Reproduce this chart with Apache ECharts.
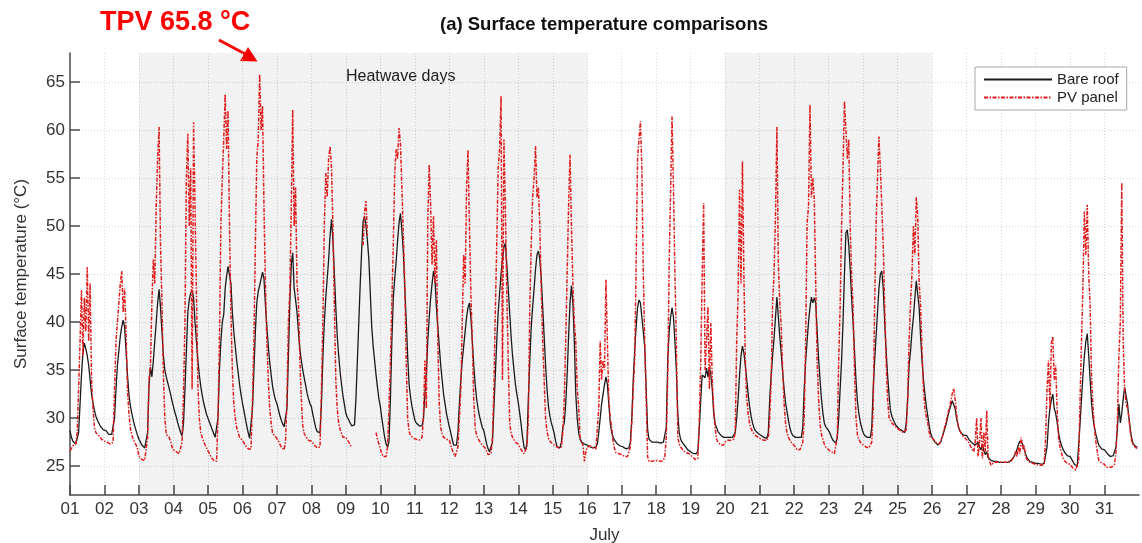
<!DOCTYPE html>
<html>
<head>
<meta charset="utf-8">
<script src="https://cdn.jsdelivr.net/npm/echarts@6/dist/echarts.min.js"></script>
<style>html,body{margin:0;padding:0;background:#fff}#main{width:1142px;height:543px}</style>
</head>
<body>
<div id="main"></div>
<script>
// Hourly values (h0..h23) for each day of July
const bareRoof = [
[28.7,28.0,27.6,27.4,27.3,27.5,28.5,31.5,34.5,36.8,37.8,37.2,36.5,35.5,34.0,32.5,31.6,30.8,30.2,29.8,29.5,29.2,29.0,28.8],
[28.9,28.7,28.5,28.3,28.2,28.3,28.5,30.0,33.0,35.5,37.0,38.5,39.5,40.2,39.5,37.0,34.5,32.5,31.3,30.5,29.8,29.2,28.7,28.2],
[27.8,27.5,27.2,27.0,26.9,26.9,28.5,33.5,35.3,34.3,36.0,38.0,40.0,42.0,43.4,41.5,39.0,36.5,35.0,34.3,33.7,33.1,32.5,31.8],
[31.2,30.6,30.1,29.5,29.0,28.5,28.1,29.5,33.0,37.0,41.0,42.3,43.0,43.3,42.5,40.0,38.0,36.0,34.5,33.3,32.4,31.6,31.0,30.4],
[30.0,29.6,29.2,28.8,28.4,28.0,27.8,30.0,35.0,38.0,40.0,40.8,43.5,44.8,45.8,45.6,44.0,41.0,39.0,37.5,36.0,34.8,33.5,32.5],
[31.6,30.8,30.0,29.2,28.5,27.9,27.7,31.0,35.0,39.0,42.0,43.2,43.8,44.5,45.2,44.5,41.8,39.5,37.5,35.8,34.5,33.3,32.5,31.9],
[31.5,30.9,30.3,29.8,29.4,29.1,29.0,31.0,36.5,42.0,46.0,47.2,43.5,42.3,41.0,39.0,37.1,36.0,35.0,34.2,33.4,32.6,32.0,31.5],
[31.2,30.4,29.7,29.0,28.6,28.4,28.5,31.5,36.4,40.0,42.5,44.5,46.5,49.0,50.7,48.5,45.0,41.5,38.5,36.5,34.8,33.5,32.3,31.4],
[30.5,30.1,29.8,29.5,29.2,29.0,29.3,32.0,36.0,40.0,44.0,47.5,50.5,51.0,50.0,48.5,46.5,43.0,39.5,37.5,36.0,34.5,33.2,32.0],
[31.2,30.0,29.0,28.0,27.3,27.0,27.5,32.0,38.0,42.5,44.5,46.3,48.5,50.3,51.3,49.5,47.3,43.5,40.2,36.5,33.5,32.2,31.2,30.5],
[29.8,29.5,29.3,29.2,29.1,29.2,30.0,32.5,34.7,38.0,40.5,42.5,44.0,45.3,44.5,41.6,39.5,37.5,35.5,34.0,32.5,31.5,30.5,29.8],
[29.1,28.5,27.8,27.2,27.0,27.2,28.5,31.5,34.0,36.0,37.5,39.0,40.5,41.5,42.0,40.5,38.0,35.5,33.5,32.0,31.0,30.2,29.6,29.0],
[28.7,28.0,27.3,26.8,26.5,26.6,27.5,31.0,34.5,38.0,41.0,43.0,45.0,46.5,47.8,48.2,46.0,43.5,41.0,38.5,36.5,35.0,33.5,32.5],
[31.6,30.5,29.3,28.0,27.0,26.7,27.3,32.0,36.0,39.5,41.6,43.5,45.5,47.0,47.4,46.5,44.5,41.5,38.5,35.5,33.0,31.2,30.2,29.5],
[29.0,28.4,27.6,27.0,26.8,26.9,27.5,29.0,29.5,31.5,34.5,38.5,42.0,43.8,42.0,38.0,32.5,30.0,28.5,27.8,27.5,27.4,27.3,27.2],
[27.2,27.1,27.0,27.0,26.9,26.9,27.0,27.3,28.5,30.0,31.5,32.5,33.5,34.3,33.5,31.5,29.5,28.5,28.0,27.7,27.5,27.3,27.2,27.1],
[27.1,27.0,26.9,26.8,26.8,26.9,27.5,30.0,34.0,37.0,39.5,41.5,42.3,42.0,40.5,39.0,37.4,33.0,28.8,27.8,27.6,27.5,27.5,27.5],
[27.5,27.5,27.4,27.4,27.4,27.5,27.5,29.0,36.0,39.0,40.5,41.5,40.5,38.0,35.0,30.5,28.5,27.8,27.5,27.3,27.1,26.9,26.7,26.5],
[26.5,26.4,26.3,26.3,26.3,26.6,29.0,32.0,34.5,34.7,34.2,35.2,34.3,35.3,34.5,33.0,30.5,29.4,29.0,28.6,28.4,28.2,28.1,28.0],
[28.0,28.0,28.0,28.0,28.0,28.0,28.0,28.5,30.0,32.0,34.5,36.5,37.5,36.8,35.5,34.0,32.5,31.2,30.2,29.5,29.0,28.7,28.5,28.4],
[28.3,28.2,28.1,28.0,27.9,27.9,28.5,32.0,34.5,36.5,38.3,40.5,42.6,40.5,38.5,36.7,34.8,33.0,31.6,30.7,29.8,29.0,28.5,28.2],
[28.1,28.0,28.0,28.0,27.9,28.0,29.0,33.0,36.0,38.0,40.0,41.5,42.6,42.0,42.5,42.0,39.0,36.2,34.0,32.0,30.5,29.5,29.1,28.9],
[28.7,28.4,28.0,27.7,27.5,27.4,28.0,30.0,33.0,36.0,40.0,45.0,49.3,49.6,48.0,45.5,42.5,39.9,37.0,34.0,31.8,30.5,29.6,29.0],
[28.5,28.2,28.1,28.0,28.0,28.0,29.0,33.0,36.0,38.5,41.0,43.5,45.0,45.3,43.5,40.0,37.0,34.5,32.5,30.8,30.2,29.8,29.5,29.2],
[29.1,28.9,28.8,28.7,28.6,28.5,29.5,32.0,35.5,37.0,39.0,40.5,42.5,44.3,44.5,41.5,38.5,36.0,34.0,32.5,31.2,30.2,29.2,28.4],
[28.0,27.8,27.5,27.3,27.2,27.2,27.5,28.0,28.5,29.0,29.5,30.2,30.8,31.3,31.8,31.9,31.0,30.0,29.3,28.8,28.5,28.3,28.2,28.2],
[28.2,28.0,27.7,27.8,27.4,27.3,27.2,27.3,27.5,27.0,26.7,27.3,26.6,26.2,26.5,25.9,25.7,25.6,25.5,25.5,25.5,25.5,25.4,25.4],
[25.4,25.4,25.4,25.4,25.4,25.4,25.5,25.6,25.8,26.0,26.3,26.7,27.2,27.6,27.7,27.3,26.8,26.3,25.9,25.7,25.5,25.4,25.4,25.3],
[25.3,25.3,25.3,25.3,25.2,25.2,25.3,25.5,27.0,29.5,31.0,31.9,32.5,31.0,30.5,29.6,28.5,27.7,27.2,26.8,26.5,26.3,26.1,26.0],
[26.0,25.8,25.5,25.2,25.0,25.0,25.2,29.5,32.0,34.5,36.5,38.0,38.8,36.5,34.0,31.5,30.0,29.0,28.3,27.7,27.2,27.0,26.8,26.7],
[26.7,26.5,26.3,26.1,26.0,26.0,26.1,26.5,27.0,29.0,31.5,29.5,30.5,32.0,33.2,33.3,31.5,30.0,28.8,27.8,27.3,27.1,27.0,27.0]
];
const pvPanel = [
[26.6,26.8,27.1,27.0,27.3,28.5,33.0,38.0,43.3,36.5,42.5,39.0,45.7,38.0,44.0,34.0,31.0,29.0,28.5,28.3,28.2,28.0,27.8,27.7],
[27.6,27.6,27.5,27.4,27.3,27.2,27.5,33.0,38.0,40.0,42.0,44.0,45.3,41.0,43.5,39.0,33.0,30.5,29.0,28.3,27.8,27.5,27.2,26.8],
[26.0,25.8,25.7,25.6,25.6,25.6,28.0,34.0,35.5,42.0,46.5,44.0,52.0,57.0,60.3,48.0,42.0,34.5,30.0,28.3,28.1,28.0,27.6,27.0],
[26.7,26.6,26.5,26.4,26.3,26.3,27.5,32.5,40.0,55.0,59.6,50.0,56.0,33.0,60.8,52.0,43.0,33.5,30.0,28.5,28.0,27.6,27.2,26.9],
[26.6,26.3,26.0,25.8,25.6,25.4,25.5,30.0,38.0,50.0,55.0,59.0,63.7,58.0,62.0,50.0,41.0,35.0,31.5,30.0,29.0,28.5,28.0,27.8],
[27.7,27.5,27.2,27.0,26.8,26.7,26.8,32.0,38.0,48.0,57.0,59.0,65.8,60.0,62.5,52.0,44.0,38.0,34.0,31.0,29.5,28.4,28.2,28.1],
[28.0,27.6,27.3,27.0,26.8,26.7,27.5,32.0,40.0,43.3,52.0,62.1,50.0,54.0,44.0,42.0,36.0,32.0,29.2,28.4,28.1,27.9,27.7,27.6],
[27.6,27.4,27.2,27.0,26.9,26.8,27.0,33.0,40.0,50.0,55.5,53.0,57.0,58.3,56.0,50.0,41.6,34.0,31.0,29.5,28.8,28.4,28.0,27.8],
[28.0,27.8,27.5,27.2,27.0,null,null,null,null,null,null,null,48.0,51.5,52.6,49.0,null,null,null,null,null,28.5,27.8,27.3],
[26.8,26.3,26.0,25.8,26.0,27.0,31.0,36.0,42.0,48.0,55.5,58.0,57.0,60.2,58.5,54.0,49.0,44.0,36.0,30.0,28.6,28.2,28.0,27.9],
[27.9,27.8,27.7,27.7,27.8,28.0,30.0,36.0,31.0,50.5,56.4,52.0,46.0,51.0,44.0,48.5,38.0,31.5,29.0,28.4,28.0,27.9,27.8,27.7],
[27.7,27.2,26.7,26.3,26.0,26.0,27.0,30.0,32.9,40.0,47.0,44.0,54.0,57.9,50.0,43.0,38.0,32.0,29.0,28.2,27.9,27.6,27.4,27.2],
[27.2,26.9,26.5,26.2,26.1,26.3,28.0,33.0,41.0,48.0,56.0,58.0,63.5,34.0,59.0,52.0,43.0,36.0,29.5,28.4,28.0,27.8,27.5,27.3],
[27.3,27.0,26.7,26.5,26.3,26.3,27.0,30.0,41.6,48.0,53.0,55.0,58.3,53.0,54.0,50.0,43.3,38.0,34.0,30.0,28.6,27.9,27.6,27.4],
[27.3,27.2,27.1,27.0,26.9,26.7,27.0,28.5,32.0,38.0,45.0,52.0,57.4,50.0,44.0,40.0,38.0,33.0,31.2,28.0,27.5,27.2,25.5,26.5],
[27.0,27.2,27.1,27.0,26.9,26.8,26.8,27.0,31.0,38.0,34.0,36.0,35.0,44.4,38.0,32.0,30.0,29.0,27.5,26.8,26.4,26.3,26.3,26.2],
[26.2,26.1,26.0,26.0,26.0,26.0,27.0,29.5,33.0,36.0,45.8,57.0,59.0,60.9,56.0,45.0,38.0,32.0,26.0,25.5,25.5,25.5,25.6,25.6],
[25.6,25.6,25.6,25.5,25.5,25.6,26.0,28.0,34.0,46.0,53.5,61.4,54.0,45.0,38.0,28.0,27.3,27.0,26.8,26.6,26.5,26.4,26.3,26.3],
[26.2,26.0,25.8,25.7,25.6,25.8,30.0,36.0,45.0,52.4,35.0,38.0,41.6,33.0,39.9,34.0,31.0,29.0,27.8,27.5,27.3,27.2,27.2,27.2],
[27.5,27.6,27.7,27.7,27.7,27.7,27.8,28.5,38.0,43.0,53.8,44.0,56.7,45.0,36.0,32.0,30.5,29.4,28.9,28.6,28.4,28.2,28.1,28.0],
[28.0,27.8,27.7,27.7,27.7,27.7,28.0,30.0,34.0,42.0,45.0,51.0,60.3,46.0,42.0,39.5,35.0,31.5,29.5,28.5,28.0,27.7,27.5,27.3],
[27.3,27.0,26.7,26.8,26.7,26.8,27.5,30.0,38.0,50.3,52.0,62.6,53.0,55.0,52.8,44.0,36.0,32.0,29.4,28.3,27.8,27.3,27.0,26.8],
[26.7,26.6,26.5,26.4,26.3,26.4,28.0,36.0,41.6,50.0,56.0,63.0,62.8,57.0,59.0,50.0,45.0,41.6,35.0,30.1,28.3,27.8,27.5,27.3],
[27.2,27.1,27.0,27.0,26.9,26.9,27.5,31.0,41.6,50.0,55.0,59.3,56.0,52.0,48.0,41.6,36.0,32.0,30.1,29.8,29.5,29.4,29.2,29.0],
[28.9,28.8,28.7,28.6,28.5,28.4,28.8,32.0,38.1,42.0,45.0,50.0,47.0,53.0,51.0,44.0,41.6,37.0,33.0,31.0,30.1,29.5,28.5,28.0],
[28.0,27.8,27.6,27.4,27.3,27.3,27.5,28.0,28.6,29.2,29.8,30.5,31.0,31.8,32.5,33.1,32.0,30.5,29.3,28.8,28.5,28.2,28.0,27.9],
[27.8,27.6,27.5,27.0,26.8,26.5,27.5,30.0,26.0,27.5,30.0,25.8,28.5,26.5,30.8,26.0,25.5,25.1,25.3,25.4,25.4,25.4,25.4,25.4],
[25.4,25.4,25.4,25.4,25.4,25.4,25.4,25.5,25.7,26.0,26.5,26.0,27.0,26.3,28.0,26.8,27.2,26.0,25.7,25.5,25.4,25.3,25.3,25.2],
[25.2,25.2,25.1,25.1,25.1,25.1,25.2,28.0,33.0,36.0,31.0,37.8,38.5,34.0,35.5,31.0,28.0,27.0,26.4,25.9,25.6,25.4,25.3,25.2],
[25.2,25.0,24.8,24.7,24.6,24.7,25.5,32.0,38.1,44.0,51.5,47.0,52.2,45.0,41.6,34.0,31.2,29.0,27.5,26.5,25.6,25.4,25.3,25.2],
[25.2,24.9,24.9,24.9,24.9,24.9,25.0,25.2,26.5,30.0,36.5,40.0,54.5,38.0,33.0,31.5,31.0,30.0,28.5,27.6,27.2,27.0,26.9,26.8]
];
const dayTicks = [1,2,3,4,5,6,7,8,9,10,11,12,13,14,15,16,17,18,19,20,21,22,23,24,25,26,27,28,29,30,31];
const tempTicks = [25,30,35,40,45,50,55,60,65];
const heatwaveSpans = [[3,16],[20,26]];
const seriesNames = ['Bare roof','PV panel'];

function toPoints(days){
  const pts = [];
  days.forEach((row, d) => row.forEach((v, h) => pts.push([1 + d + h/24, v])));
  return pts;
}

const FONT = 'Liberation Sans, Arial, sans-serif';
const chart = echarts.init(document.getElementById('main'), null, {renderer:'canvas'});
const axisCol = '#4a4a4a';
chart.setOption({
  animation:false,
  backgroundColor:'#fff',
  grid:{left:70,right:3,top:53,bottom:48,containLabel:false,outerBoundsMode:'none'},
  legend:{
    data:seriesNames, orient:'vertical', left:975, top:67,
    padding:[5,8,5,8], itemGap:3, itemWidth:68, itemHeight:12,
    itemStyle:{opacity:0},
    backgroundColor:'#fff', borderColor:'#a8a8a8', borderWidth:1, borderRadius:0,
    textStyle:{fontFamily:FONT,fontSize:15,color:'#222'}
  },
  xAxis:{
    type:'value', min:1, max:32,
    name:'July', nameLocation:'middle', nameGap:32,
    nameTextStyle:{fontFamily:FONT,fontSize:17,color:'#333'},
    axisLine:{lineStyle:{color:axisCol,width:1.5}},
    axisTick:{inside:true,length:10,customValues:dayTicks,lineStyle:{color:axisCol,width:1.5}},
    axisLabel:{customValues:dayTicks,fontFamily:FONT,fontSize:17,color:'#333',margin:6,
      formatter:v=>String(v).padStart(2,'0')},
    splitLine:{show:true,lineStyle:{color:'#d4d4d4',type:[1,2],width:1}}
  },
  yAxis:{
    type:'value', min:22, max:68,
    name:'Surface temperature (°C)', nameLocation:'middle', nameGap:40,
    nameTextStyle:{fontFamily:FONT,fontSize:17,color:'#333'},
    axisLine:{show:true,lineStyle:{color:axisCol,width:1.5}},
    axisTick:{show:true,inside:true,length:10,customValues:tempTicks,lineStyle:{color:axisCol,width:1.5}},
    axisLabel:{customValues:tempTicks,fontFamily:FONT,fontSize:17,color:'#333',margin:5},
    splitLine:{show:true,lineStyle:{color:'#d4d4d4',type:[1,2],width:1}}
  },
  series:[
    {name:seriesNames[0], type:'line', data:toPoints(bareRoof), showSymbol:false, symbol:'none',
     connectNulls:false, z:2,
     lineStyle:{color:'#1a1a1a',width:1.3}, itemStyle:{color:'#1a1a1a'},
     markArea:{silent:true, itemStyle:{color:'rgba(0,0,0,0.05)'},
       data:heatwaveSpans.map(s=>[{xAxis:s[0]},{xAxis:s[1]}])}},
    {name:seriesNames[1], type:'line', data:toPoints(pvPanel), showSymbol:false, symbol:'none',
     connectNulls:false, z:3,
     lineStyle:{color:'#e01a1a',width:1.5,type:[4,1.5,1.5,1.5]}, itemStyle:{color:'#e01a1a'}}
  ],
  graphic:[
    {type:'text', x:604, y:25, style:{text:'(a) Surface temperature comparisons', fontFamily:FONT,
      fontWeight:'bold', fontSize:18.5, fill:'#111', align:'center', verticalAlign:'middle'}},
    {type:'text', x:346, y:77, style:{text:'Heatwave days', fontFamily:FONT, fontSize:16,
      fill:'#222', align:'left', verticalAlign:'middle'}},
    {type:'text', x:100, y:23, style:{text:'TPV 65.8 °C', fontFamily:FONT, fontWeight:'bold',
      fontSize:27, fill:'#ff0000', align:'left', verticalAlign:'middle'}},
    {type:'line', shape:{x1:219,y1:40,x2:247,y2:55}, style:{stroke:'#ff0000',lineWidth:3}},
    {type:'polygon', shape:{points:[[240,61],[248,47],[257.5,61.5]]}, style:{fill:'#ff0000'}}
  ]
});
</script>
</body>
</html>
